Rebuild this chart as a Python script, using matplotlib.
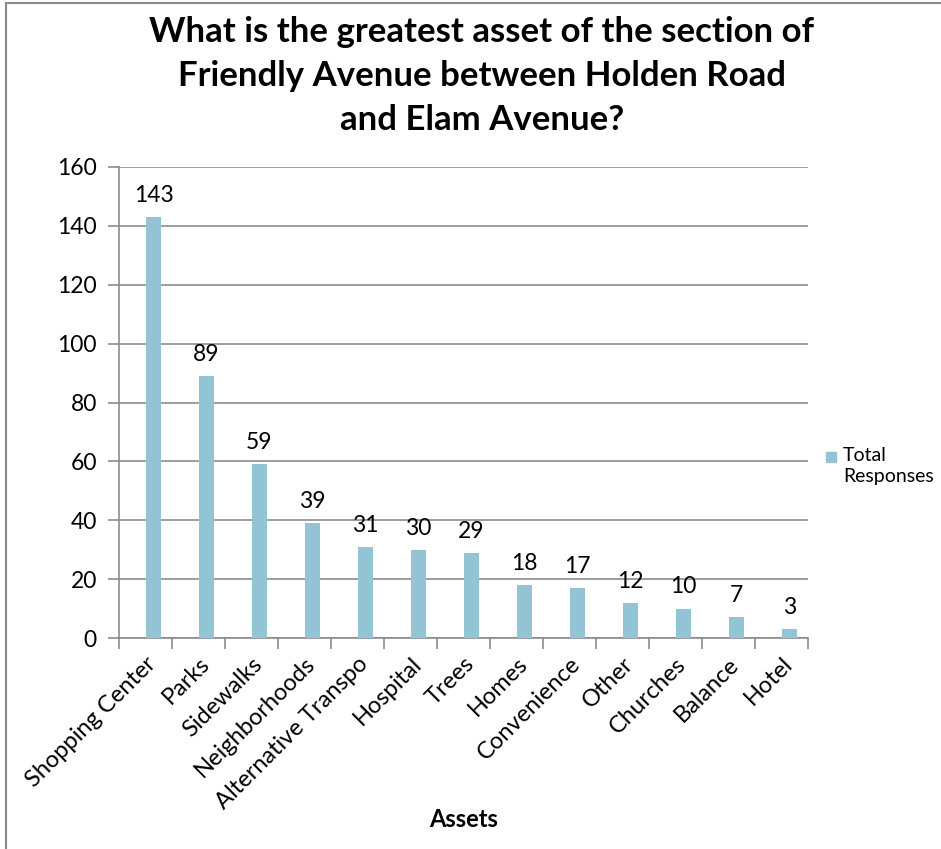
import matplotlib.pyplot as plt
from matplotlib.patches import Rectangle
from matplotlib.lines import Line2D

plt.rcParams['font.family'] = ['Lato', 'DejaVu Sans']

assets = ['Shopping Center', 'Parks', 'Sidewalks', 'Neighborhoods',
          'Alternative Transpo', 'Hospital', 'Trees', 'Homes',
          'Convenience', 'Other', 'Churches', 'Balance', 'Hotel']
responses = [143, 89, 59, 39, 31, 30, 29, 18, 17, 12, 10, 7, 3]

BAR_COLOR = '#93C4D5'
GRID_COLOR = '#8C8C8C'
BAR_SHIFT = 0.15  # bars sit slightly right of the category centre

fig = plt.figure(figsize=(9.41, 8.49), dpi=100)
ax = fig.add_axes([0.1265, 0.2485, 0.7322, 0.5548])

x = list(range(len(assets)))
bx = [xi + BAR_SHIFT for xi in x]
bars = ax.bar(bx, responses, width=0.285, color=BAR_COLOR, zorder=3)
for xi, v in zip(bx, responses):
    ax.annotate(str(v), (xi, v), xytext=(0, 8), textcoords='offset points',
                ha='center', va='bottom', fontsize=16.5)

ax.set_xlim(-0.5, len(assets) - 0.5)
ax.set_ylim(0, 160)
ax.set_yticks(range(0, 161, 20))
ax.yaxis.grid(True, color=GRID_COLOR, linewidth=1.2, zorder=0)
ax.tick_params(axis='y', labelsize=16.5, length=8, width=1.2,
               color=GRID_COLOR, pad=8)

# ticks sit between categories, labels at category centres
ax.set_xticks([i - 0.5 for i in range(len(assets) + 1)])
ax.set_xticks(x, minor=True)
ax.set_xticklabels([])
ax.set_xticklabels(assets, minor=True, rotation=45, ha='right',
                   rotation_mode='anchor', fontsize=17)
ax.tick_params(axis='x', which='major', length=8, width=1.2, color=GRID_COLOR)
ax.tick_params(axis='x', which='minor', length=0, pad=11)

for side in ['top', 'right']:
    ax.spines[side].set_visible(False)
for side in ['left', 'bottom']:
    ax.spines[side].set_color(GRID_COLOR)
    ax.spines[side].set_linewidth(1.2)

ax.set_xlabel('Assets', fontsize=17, fontweight='bold')
ax.xaxis.set_label_coords(0.5, -0.386)
ax.xaxis.label.set_va('center')

fig.text(0.512, 0.981, 'What is the greatest asset of the section of\n'
         'Friendly Avenue between Holden Road\nand Elam Avenue?',
         ha='center', va='top', fontsize=25, fontweight='bold',
         linespacing=1.45)

# legend
fig.patches.append(Rectangle((826 / 941, 1 - 462 / 849), 10 / 941, 10 / 849,
                             transform=fig.transFigure, color=BAR_COLOR))
fig.text(843 / 941, 1 - 447 / 849, 'Total\nResponses', ha='left', va='top',
         fontsize=14, linespacing=1.3)

# chart area border
fig.add_artist(Line2D([6 / 941, 6 / 941], [0, 1 - 3 / 849],
                      transform=fig.transFigure, color='#8A8A8A', lw=1.5))
fig.add_artist(Line2D([6 / 941, 1], [1 - 3 / 849, 1 - 3 / 849],
                      transform=fig.transFigure, color='#8A8A8A', lw=1.5))

fig.savefig('out.png', dpi=100)
